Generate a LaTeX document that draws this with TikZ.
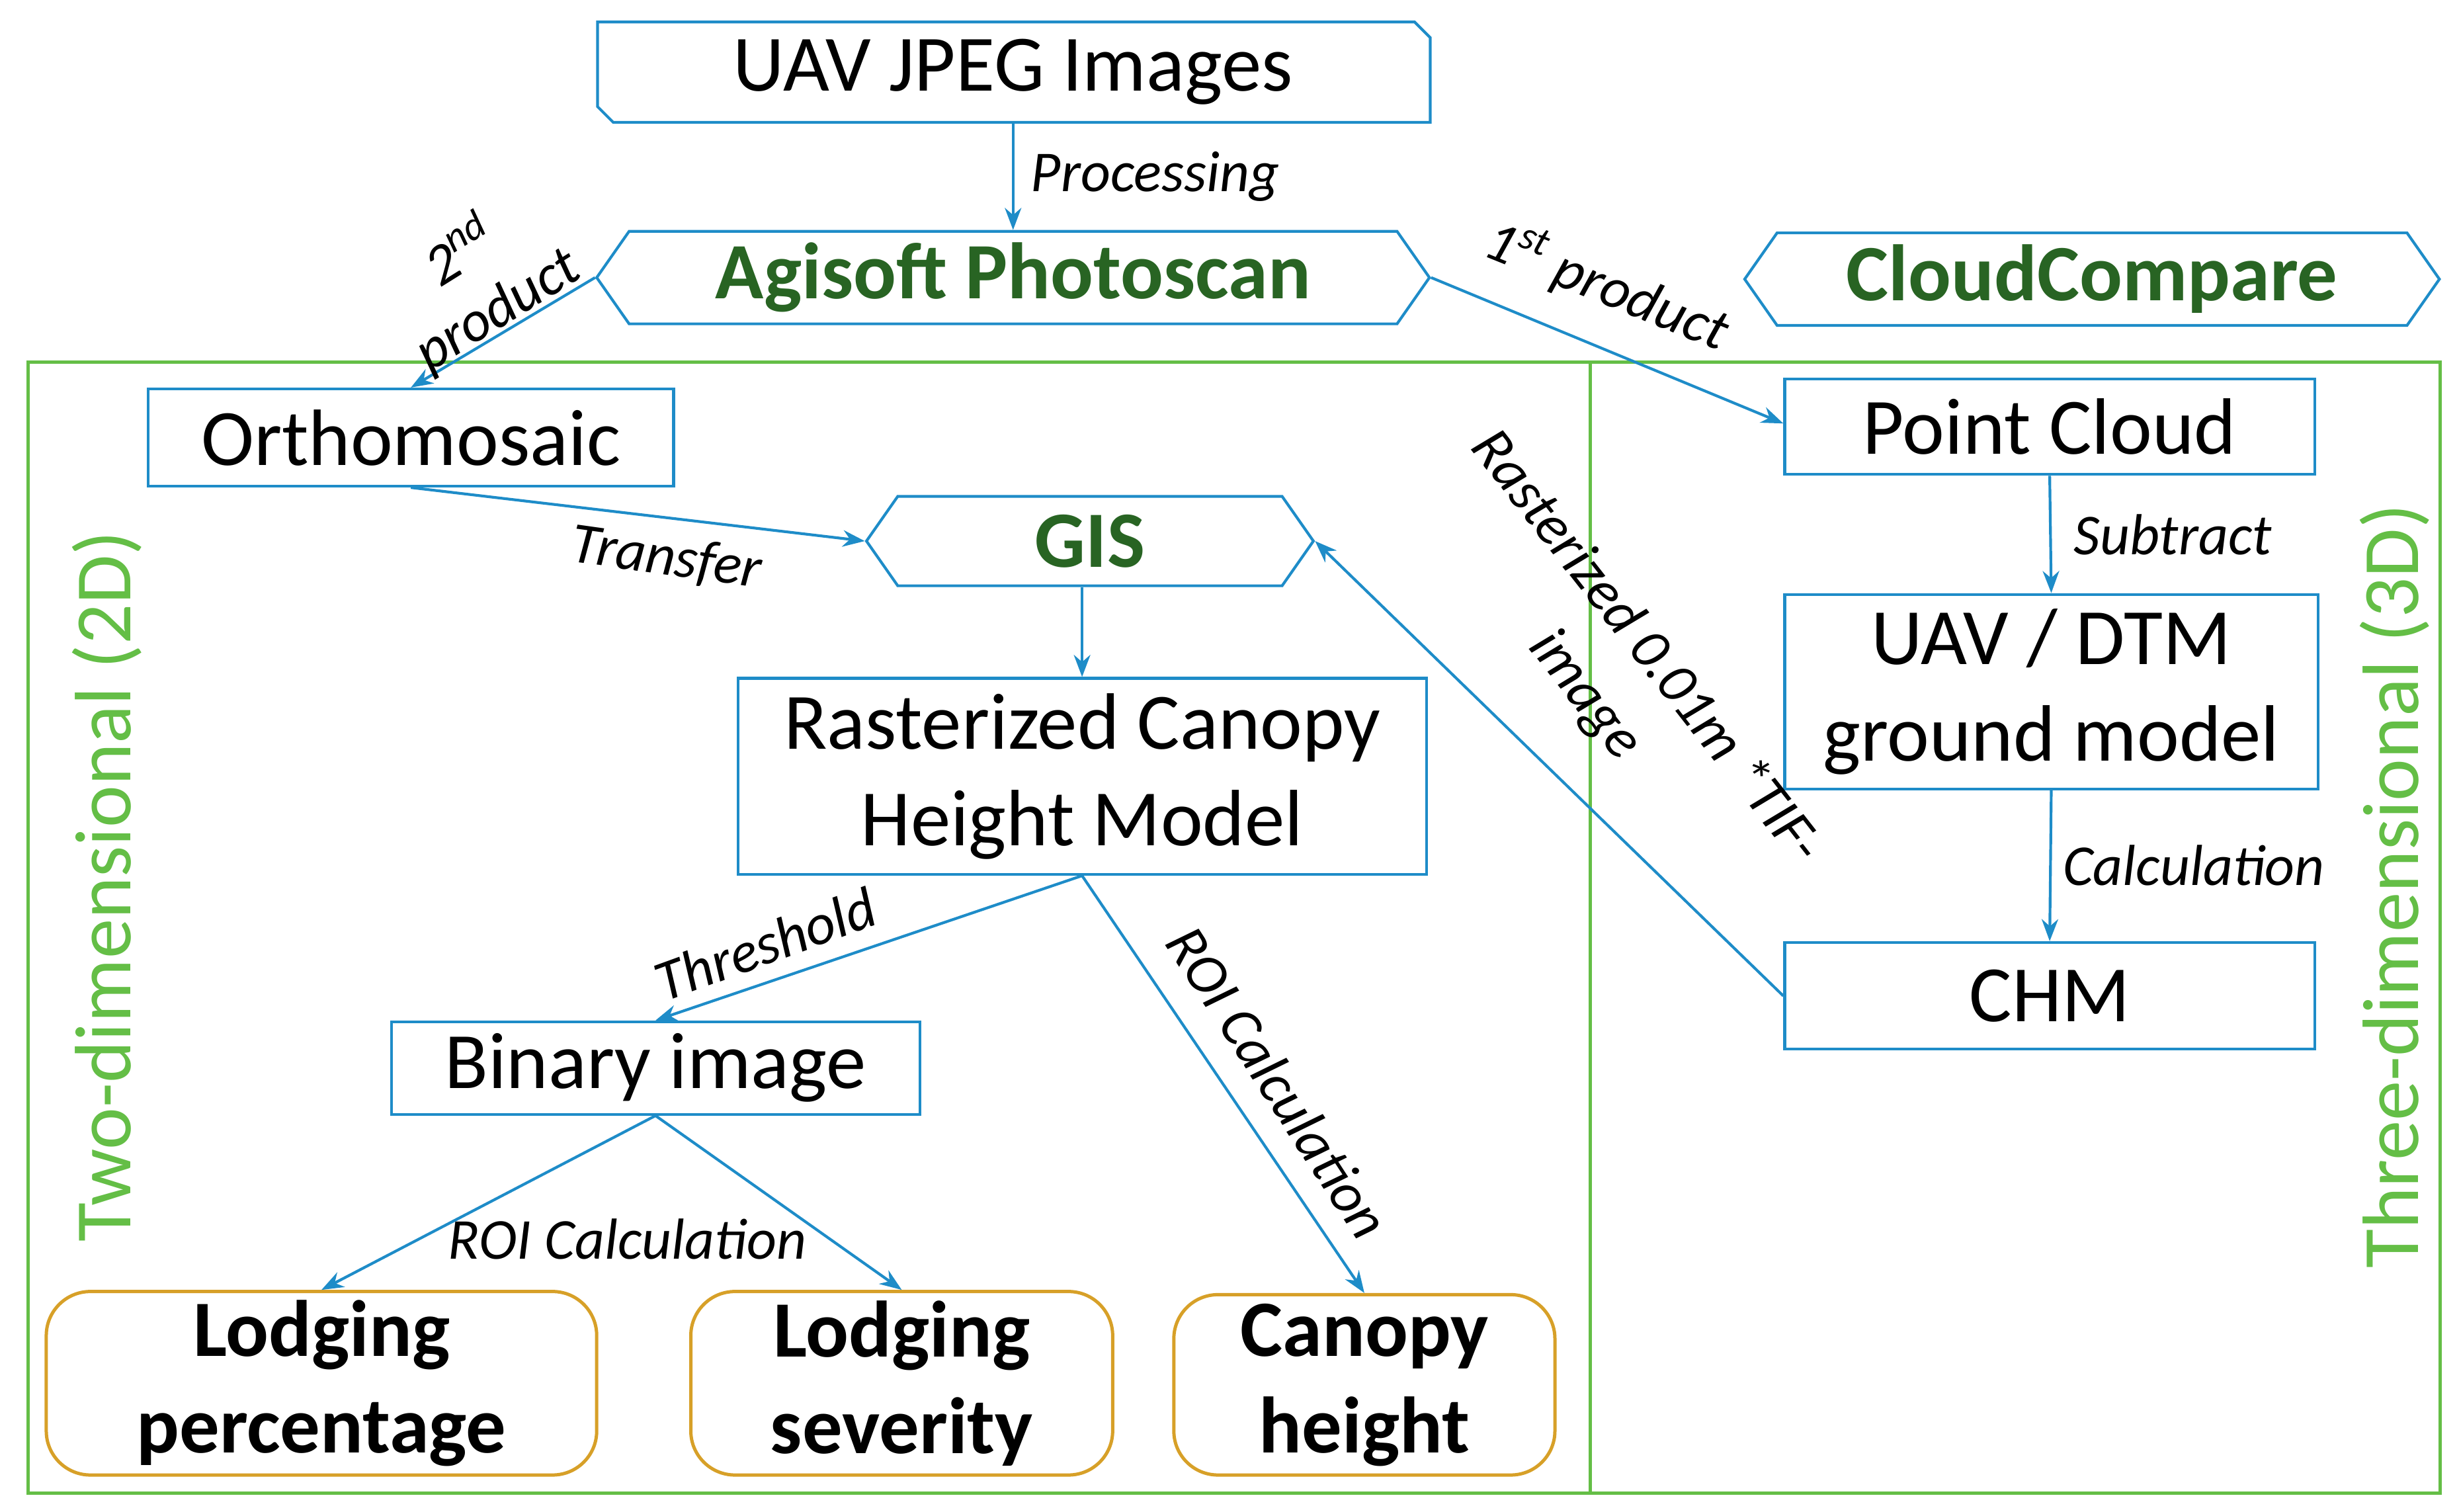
\documentclass[tikz,border=0pt]{standalone}
\usepackage{fontspec}
\setmainfont{Carlito}
\usetikzlibrary{shapes.symbols,arrows.meta}
\definecolor{bl}{RGB}{30,140,200}
\definecolor{gr}{RGB}{100,190,70}
\definecolor{dg}{RGB}{40,100,35}
\definecolor{og}{RGB}{215,160,40}
\begin{document}
\begin{tikzpicture}[x=0.1mm,y=-0.1mm,
 box/.style={draw=bl,line width=0.5pt,inner sep=0,align=center,font=\fontsize{14.5}{17.5}\selectfont},
 hex/.style={draw=bl,line width=0.5pt,inner sep=0,signal,signal to=west and east,signal pointer angle=110,font=\fontsize{14.5}{17}\selectfont\bfseries,text=dg},
 res/.style={draw=og,line width=0.6pt,rounded corners=8pt,inner sep=0,align=center,font=\fontsize{14.5}{17.5}\selectfont\bfseries},
 ar/.style={draw=bl,line width=0.5pt,-{Stealth[length=4pt,width=3pt]}},
 lb/.style={font=\fontsize{10.5}{12}\selectfont\itshape,inner sep=1pt}]
\useasboundingbox (0,0) rectangle (1568,964);
\draw[gr,line width=0.6pt] (18,231) rectangle (1014,952);
\draw[gr,line width=0.6pt] (1014,231) rectangle (1556,952);
\node[font=\fontsize{14.5}{17}\selectfont,minimum width=53.1mm,minimum height=6.4mm,inner sep=0] (uav) at (646,46) {UAV JPEG Images};
\draw[bl,line width=0.5pt] (381,14) -- (902,14) -- (912,24) -- (912,78) -- (391,78) -- (381,68) -- cycle;
\node[hex,minimum width=53.1mm,minimum height=5.9mm] (ag) at (646,177) {Agisoft Photoscan};
\node[hex,minimum width=44.3mm,minimum height=5.9mm] (cc) at (1334,178) {CloudCompare};
\node[box,minimum width=33.5mm,minimum height=6.2mm] (or) at (262,279) {Orthomosaic};
\node[hex,minimum width=28.5mm,minimum height=5.7mm] (gis) at (695,345) {GIS};
\node[box,minimum width=43.9mm,minimum height=12.5mm] (ras) at (690,495) {Rasterized Canopy\\Height Model};
\node[box,minimum width=33.7mm,minimum height=5.9mm] (bin) at (418,681) {Binary image};
\node[res,minimum width=35.1mm,minimum height=11.7mm] (lp) at (205,882) {Lodging\\percentage};
\node[res,minimum width=26.9mm,minimum height=11.7mm] (ls) at (575,882) {Lodging\\severity};
\node[res,minimum width=24.3mm,minimum height=11.5mm] (ch) at (870,883) {Canopy\\height};
\node[box,minimum width=33.8mm,minimum height=6.1mm] (pc) at (1307,272) {Point Cloud};
\node[box,minimum width=34mm,minimum height=12.4mm] (dtm) at (1308,441) {UAV / DTM\\ground model};
\node[box,minimum width=33.8mm,minimum height=6.8mm] (chm) at (1307,635) {CHM};
\node[gr,rotate=90,font=\fontsize{14.5}{17}\selectfont] at (68,565) {Two-dimensional (2D)};
\node[gr,rotate=90,font=\fontsize{14.5}{17}\selectfont] at (1527,565) {Three-dimensional (3D)};
\draw[ar] (uav.south) -- (ag.north) node[lb,midway,right=2pt] {Processing};
\draw[ar] (ag.west) -- (or.north) ;
\node[lb,rotate=32,align=center] at (305,178) {2\textsuperscript{nd}\\product};
\draw[ar] (ag.east) -- (pc.west|-1138,270);
\node[lb,rotate=-22] at (1025,182) {1\textsuperscript{st} product};
\draw[ar] (or.south) -- (gis.west);
\node[lb,rotate=-8] at (425,356) {Transfer};
\draw[ar] (gis.south-|ras.north) -- (ras.north);
\draw[ar] (chm.west) -- (gis.east);
\node[lb,rotate=-52,align=center,font=\fontsize{10.5}{14}\selectfont\itshape] at (1030,428) {Rasterized 0.01m *TIF-\\image};
\draw[ar] (pc.south) -- (dtm.north) node[lb,midway,right=3pt] {Subtract};
\draw[ar] (dtm.south) -- (chm.north) node[lb,midway,right=1pt] {Calculation};
\draw[ar] (ras.south) -- (bin.north);
\node[lb,rotate=20] at (488,602) {Threshold};
\draw[ar] (ras.south) -- (ch.north);
\node[lb,rotate=-57] at (815,690) {ROI Calculation};
\draw[ar] (bin.south) -- (lp.north);
\draw[ar] (bin.south) -- (ls.north);
\node[lb] at (400,790) {ROI Calculation};
\end{tikzpicture}
\end{document}
